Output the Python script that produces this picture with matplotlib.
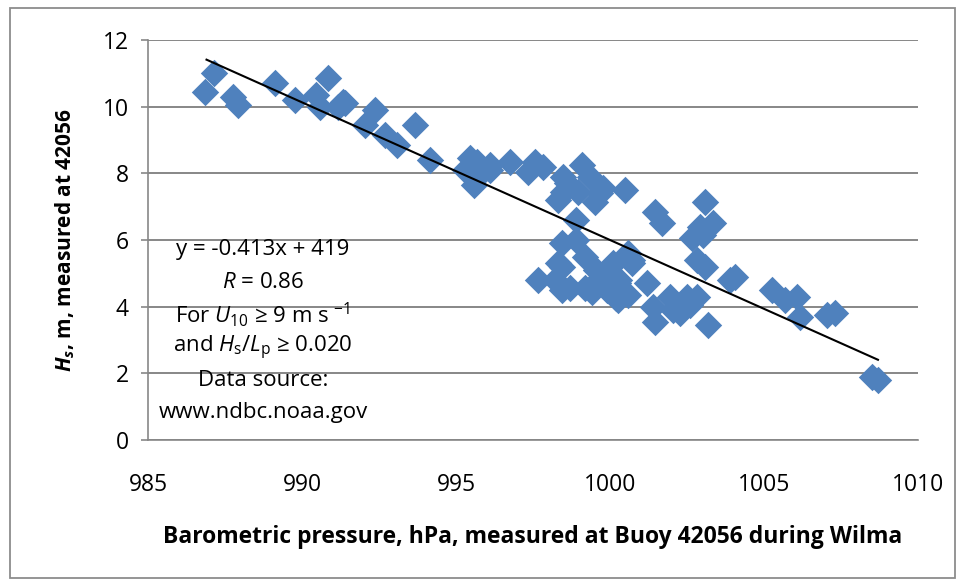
# -*- coding: utf-8 -*-
"""
Significant wave height vs barometric pressure at buoy 42056 (Wilma).
"""

import matplotlib
matplotlib.use("Agg")
from matplotlib import pyplot as plt
from matplotlib.patches import Rectangle

# #############################################################################
# Data
# #############################################################################

pressure = [
    986.85, 987.15, 987.77, 987.93, 989.12, 989.77, 990.47, 990.85, 990.58,
    991.17, 991.34, 991.40, 992.05, 992.37, 992.70, 993.07, 993.67, 994.16,
    995.30, 995.45, 995.67, 995.83, 996.10, 996.10, 995.60, 995.75, 996.75,
    997.35, 997.56, 997.83, 998.48, 999.08, 999.35, 998.59, 998.97, 998.48,
    998.32, 999.78, 999.68, 999.51, 1000.49, 998.91, 998.43, 998.91, 999.19,
    998.32, 1000.59, 1001.46, 1001.68, 997.67, 998.21, 998.43, 998.43, 998.70,
    999.19, 999.40, 999.56, 999.56, 1000.05, 1000.05, 1000.27, 999.89,
    1000.27, 1000.59, 1000.70, 1001.19, 1001.41, 1001.46, 1001.95, 1002.06,
    1003.08, 1003.35, 1002.92, 1002.65, 1003.03, 1002.81, 1003.08, 1000.10,
    1000.70, 999.90, 1000.30, 1000.20, 1002.16, 1002.27, 1002.49, 1002.81,
    1002.60, 1003.19, 1003.90, 1004.05, 1005.25, 1005.68, 1006.06, 1006.17,
    1007.03, 1007.30, 1008.50, 1008.71,
]
wave_height = [
    10.45, 11.00, 10.30, 10.05, 10.70, 10.20, 10.35, 10.85, 10.00,
    10.00, 10.15, 10.10, 9.45, 9.90, 9.15, 8.85, 9.45, 8.40,
    8.10, 8.45, 8.35, 8.05, 8.25, 8.10, 7.65, 7.95, 8.35,
    8.05, 8.35, 8.20, 7.90, 8.25, 7.90, 7.70, 7.45, 7.45,
    7.20, 7.55, 7.40, 7.15, 7.50, 6.60, 5.90, 6.00, 5.50,
    5.30, 5.60, 6.85, 6.50, 4.80, 4.80, 5.20, 4.50, 4.55,
    4.55, 4.45, 5.10, 4.75, 5.25, 4.85, 4.70, 4.50,
    4.20, 4.35, 5.40, 4.70, 4.00, 3.55, 4.30, 3.90,
    7.15, 6.50, 6.40, 6.05, 6.15, 5.40, 5.20, 5.30,
    5.30, 4.80, 4.80, 4.25, 4.00, 3.80, 4.30, 4.30,
    4.05, 3.45, 4.80, 4.90, 4.50, 4.20, 4.30, 3.70,
    3.75, 3.80, 1.90, 1.80,
]

# linear trend as printed on the chart
trend_slope = -0.413
trend_intercept = 419.0
trend_range = [986.9, 1008.7]

x_ticks = [985, 990, 995, 1000, 1005, 1010]
y_ticks = [0, 2, 4, 6, 8, 10, 12]

note_lines = [
    "y = -0.413x + 419",
    r"$\mathit{R}$ = 0.86",
    r"For $\mathit{U}_{10}$ ≥ 9 m s $^{-1}$",
    r"and $\mathit{H}_{\mathrm{s}}$/$\mathit{L}_{\mathrm{p}}$ ≥ 0.020",
    "Data source:",
    "www.ndbc.noaa.gov",
]

# #############################################################################
# Style
# #############################################################################

plt.rcParams["font.family"] = ["Open Sans", "DejaVu Sans"]
plt.rcParams["mathtext.fontset"] = "custom"
plt.rcParams["mathtext.rm"] = "Open Sans"
plt.rcParams["mathtext.it"] = "Open Sans:italic"
plt.rcParams["mathtext.bf"] = "Open Sans:bold"
plt.rcParams["mathtext.bfit"] = "Open Sans:bold:italic"

BLUE = "#4F81BD"
GRID = "#878787"
W, H = 962, 583

figure = plt.figure(figsize=(W / 100, H / 100), dpi=100)
axis = figure.add_axes([148 / W, 1 - 440 / H, 770 / W, 400 / H])

# outer chart border
figure.patches.append(
    Rectangle((10 / W, 1 - 578 / H), 945 / W, 570 / H,
              transform=figure.transFigure, fill=False,
              edgecolor="#8c8c8c", linewidth=1.3)
)

axis.set_xlim(985, 1010)
axis.set_ylim(0, 12)
axis.set_xticks(x_ticks)
axis.set_yticks(y_ticks)
axis.grid(axis="y", color=GRID, linewidth=1.4)
axis.set_axisbelow(True)

for side in ("top", "right"):
    axis.spines[side].set_visible(False)
for side in ("left", "bottom"):
    axis.spines[side].set_color(GRID)
    axis.spines[side].set_linewidth(1.2)

axis.tick_params(axis="y", length=5, width=1.2, color=GRID, labelsize=16.5, pad=9)
axis.tick_params(axis="x", length=0, labelsize=16.5, pad=24)

axis.scatter(pressure, wave_height, marker="D", s=195, color=BLUE,
             linewidths=0, zorder=3)

trend_y = [trend_slope * x + trend_intercept for x in trend_range]
axis.plot(trend_range, trend_y, color="black", linewidth=1.5, zorder=4)

# note block, positioned in figure pixels (origin top-left like the reference)
for i, line in enumerate(note_lines):
    axis.text(263 / W, 1 - (250 + 32.5 * i) / H, line,
              transform=figure.transFigure, fontsize=16,
              ha="center", va="center")

axis.set_xlabel("Barometric pressure, hPa, measured at Buoy 42056 during Wilma",
                fontsize=16.5, fontweight="bold", labelpad=20)
axis.set_ylabel(r"$\mathbfit{H}_{\mathbfit{s}}$, m, measured at 42056",
                fontsize=15, fontweight="bold", labelpad=18)

figure.savefig("out.png", dpi=100)
